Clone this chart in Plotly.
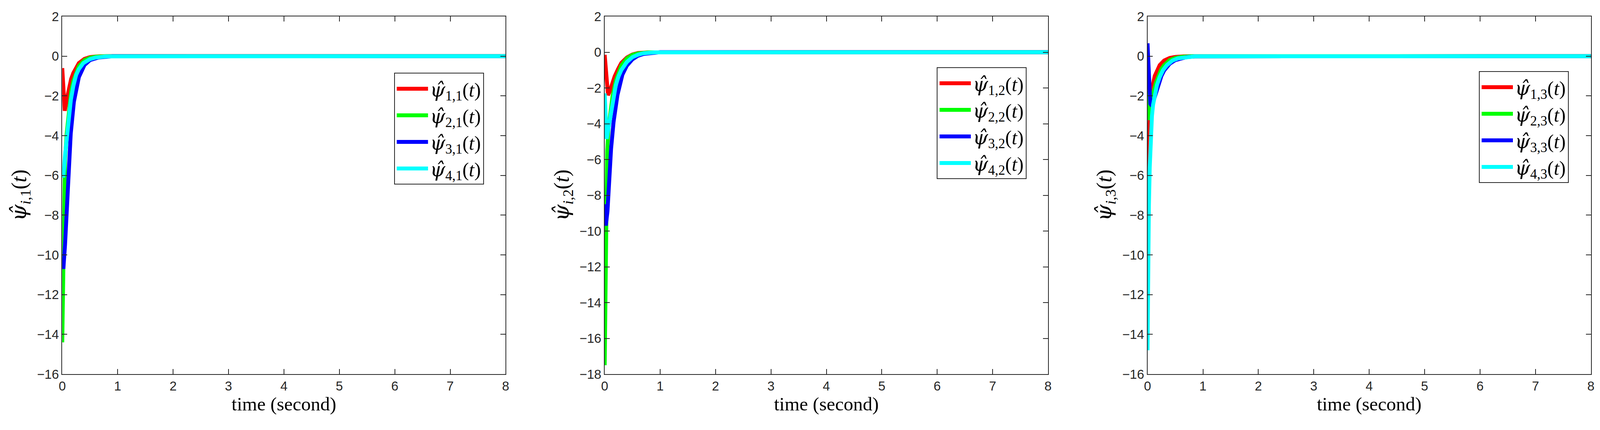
import plotly.graph_objects as go

# ---- dados (t em segundos) ----
# painel 1: psi_hat_{i,1}
t_11 = [0, 0.02, 0.045, 0.08, 0.12, 0.16, 0.2, 0.25, 0.3, 0.4, 0.5, 0.6, 0.8, 8]
v_11 = [-0.6, -1.9, -2.75, -2.2, -1.6, -1.15, -0.85, -0.55, -0.35, -0.14, -0.05, -0.02, 0, 0]
t_21 = [0, 0.01, 0.02, 0.03, 0.05, 0.08, 0.12, 0.16, 0.2, 0.25, 0.3, 0.4, 0.5, 0.6, 0.8, 8]
v_21 = [-14.4, -12, -9.5, -7.0, -5.2, -3.9, -2.6, -1.8, -1.25, -0.8, -0.5, -0.2, -0.08, -0.03, 0, 0]
t_31 = [0, 0.02, 0.05, 0.075, 0.107, 0.153, 0.21, 0.3, 0.4, 0.5, 0.65, 0.9, 8]
v_31 = [-10.4, -10.7, -9.5, -8.0, -5.8, -3.9, -2.3, -1.05, -0.45, -0.2, -0.07, 0, 0]
t_41 = [0, 0.02, 0.05, 0.087, 0.12, 0.155, 0.2, 0.25, 0.3, 0.38, 0.5, 0.6, 0.8, 8]
v_41 = [-5.8, -6.1, -5.0, -3.95, -3.0, -2.2, -1.5, -0.95, -0.65, -0.35, -0.15, -0.07, -0.01, 0]

# painel 2: psi_hat_{i,2}
t_12 = [0, 0.03, 0.06, 0.09, 0.13, 0.18, 0.24, 0.3, 0.4, 0.5, 0.6, 0.8, 8]
v_12 = [-0.15, -1.4, -2.4, -2.2, -1.8, -1.35, -0.95, -0.6, -0.3, -0.13, -0.05, -0.01, 0]
t_22 = [0, 0.01, 0.02, 0.03, 0.045, 0.07, 0.1, 0.14, 0.2, 0.25, 0.3, 0.4, 0.5, 0.6, 0.8, 8]
v_22 = [-17.5, -14.5, -11, -8, -5.5, -4.2, -3.3, -2.5, -1.6, -1.1, -0.75, -0.35, -0.15, -0.07, -0.01, 0]
t_32 = [0, 0.02, 0.05, 0.08, 0.115, 0.16, 0.23, 0.32, 0.4, 0.5, 0.6, 0.7, 0.85, 1.0, 8]
v_32 = [-8.5, -9.7, -8.9, -7.2, -5.4, -3.9, -2.4, -1.25, -0.75, -0.4, -0.2, -0.1, -0.03, 0, 0]
t_42 = [0, 0.015, 0.035, 0.06, 0.09, 0.12, 0.16, 0.2, 0.25, 0.3, 0.4, 0.5, 0.6, 0.7, 0.9, 8]
v_42 = [-2.3, -3.8, -4.85, -4.4, -3.8, -3.1, -2.45, -1.85, -1.35, -1.0, -0.55, -0.28, -0.14, -0.06, -0.01, 0]

# painel 3: psi_hat_{i,3}
t_13 = [0, 0.01, 0.02, 0.04, 0.06, 0.08, 0.1, 0.13, 0.17, 0.22, 0.3, 0.4, 0.5, 0.65, 8]
v_13 = [-9.5, -6.5, -4.8, -3.2, -2.4, -1.8, -1.4, -1.0, -0.7, -0.45, -0.22, -0.09, -0.04, -0.01, 0]
t_23 = [0, 0.015, 0.04, 0.07, 0.1, 0.15, 0.2, 0.25, 0.3, 0.4, 0.5, 0.6, 0.8, 8]
v_23 = [-1.75, -3.2, -3.0, -2.4, -1.9, -1.35, -0.95, -0.65, -0.45, -0.2, -0.09, -0.04, 0, 0]
t_33 = [0, 0.025, 0.05, 0.08, 0.12, 0.16, 0.2, 0.25, 0.3, 0.4, 0.5, 0.6, 0.7, 0.85, 8]
v_33 = [0.65, -1.0, -2.4, -2.5, -2.15, -1.75, -1.4, -1.0, -0.72, -0.38, -0.2, -0.1, -0.05, -0.01, 0]
t_43 = [0, 0.005, 0.012, 0.025, 0.04, 0.06, 0.08, 0.1, 0.13, 0.17, 0.22, 0.28, 0.35, 0.45, 0.55, 0.7, 0.85, 8]
v_43 = [-14.8, -12, -9.8, -7.5, -5.6, -4.0, -3.0, -2.45, -1.9, -1.45, -1.05, -0.7, -0.45, -0.22, -0.11, -0.04, -0.01, 0]

cores = ['#ff0000', '#00ff00', '#0000ff', '#00ffff']
paineis = [
    ([t_11, t_21, t_31, t_41], [v_11, v_21, v_31, v_41]),
    ([t_12, t_22, t_32, t_42], [v_12, v_22, v_32, v_42]),
    ([t_13, t_23, t_33, t_43], [v_13, v_23, v_33, v_43]),
]
y_min = [-16, -18, -16]

# posições (fração do papel, medidas numa imagem de 4215x1100)
W, H = 4215, 1100
x_dom = [[164 / W, 1332 / W], [1593 / W, 2761 / W], [3023 / W, 4191 / W]]
y_dom = [1 - 957 / H, 1 - 42 / H]
leg_pos = [(1038 / W, 1 - 186 / H), (2468 / W, 1 - 172 / H), (3896 / W, 1 - 182 / H)]

fonte_serif = 'Liberation Serif'
cor_eixo = '#262626'
# psi com chapéu (DejaVu posiciona bem o acento combinante)
psi = "<span style='font-family:DejaVu Serif'><i>ψ̂</i></span>"

fig = go.Figure()

for j, (ts, vs) in enumerate(paineis):
    k = j + 1
    xa = 'x' if k == 1 else f'x{k}'
    ya = 'y' if k == 1 else f'y{k}'
    leg = 'legend' if k == 1 else f'legend{k}'
    for i in range(4):
        fig.add_trace(go.Scatter(
            x=ts[i], y=vs[i], mode='lines',
            line=dict(color=cores[i], width=10),
            name=f'{psi}<sub>{i + 1},{k}</sub>(<i>t</i>)',
            xaxis=xa, yaxis=ya, legend=leg))

    eixo_comum = dict(showline=True, linecolor=cor_eixo, linewidth=2, mirror='allticks',
                      ticks='inside', ticklen=13, tickwidth=2, tickcolor=cor_eixo,
                      showgrid=False, zeroline=False, automargin=False,
                      tickfont=dict(family='Liberation Sans', size=33, color=cor_eixo))
    fig.layout[f'xaxis{"" if k == 1 else k}'] = dict(
        eixo_comum, domain=x_dom[j], range=[0, 8], dtick=1, anchor=ya,
        title=dict(text='time (second)', font=dict(family=fonte_serif, size=49, color='#000'),
                   standoff=10))
    fig.layout[f'yaxis{"" if k == 1 else k}'] = dict(
        eixo_comum, domain=y_dom, range=[y_min[j], 2], dtick=2, anchor=xa,
        title=dict(text=f'{psi}<sub><i>i</i>,{k}</sub>(<i>t</i>)',
                   font=dict(family=fonte_serif, size=54, color='#000'), standoff=10))
    fig.layout[leg] = dict(
        x=leg_pos[j][0], y=leg_pos[j][1], xanchor='left', yanchor='top',
        bgcolor='white', bordercolor=cor_eixo, borderwidth=2,
        itemwidth=80, font=dict(family=fonte_serif, size=50, color='#000'))

fig.update_layout(autosize=True, margin=dict(l=0, r=0, t=0, b=0),
                  plot_bgcolor='white', paper_bgcolor='white', showlegend=True)

# a figura ocupa exatamente a janela
script_pos = """
document.documentElement.style.height = '100%';
document.body.style.height = '100%';
document.body.style.margin = '0';
document.body.style.overflow = 'hidden';
"""
fig.write_html('out.html', default_width='100vw', default_height='100vh',
               config={'displayModeBar': False, 'responsive': True},
               post_script=script_pos)
